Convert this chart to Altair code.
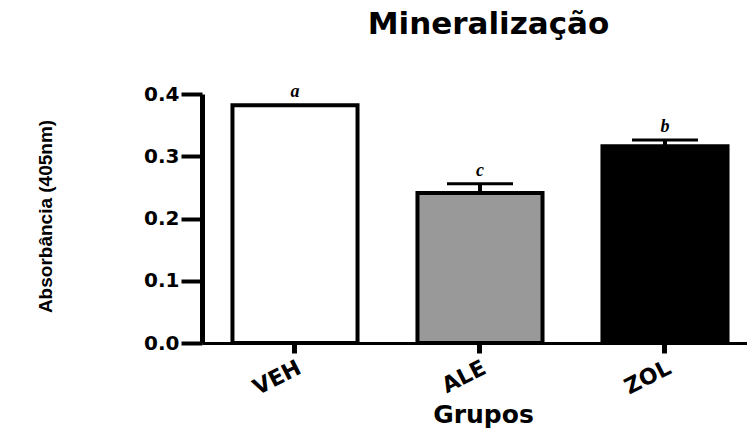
import altair as alt
import pandas as pd

# Mean absorbance per treatment group, upper SEM and significance letters
groups = ["VEH", "ALE", "ZOL"]
means = [0.382, 0.241, 0.316]
sems = [0.0, 0.015, 0.010]
letters = ["a", "c", "b"]
fills = ["#ffffff", "#999999", "#000000"]
y_ticks = [0.0, 0.1, 0.2, 0.3, 0.4]

df = pd.DataFrame({"grupo": groups, "media": means, "sem": sems, "letra": letters})
df["topo"] = df["media"] + df["sem"]

x_scale = alt.Scale(domain=groups, paddingInner=0.324, paddingOuter=0.135, align=0.61)
y_scale = alt.Scale(domain=[0, 0.4], nice=False, zero=True)

x_axis = alt.Axis(
    title="Grupos",
    labelAngle=-27,
    labelFont="DejaVu Sans",
    labelFontWeight="bold",
    labelFontSize=22,
    labelColor="black",
    labelPadding=4,
    tickSize=10,
    tickWidth=5,
    tickColor="black",
    domainColor="black",
    domainWidth=3,
    titleFont="DejaVu Sans",
    titleFontWeight="bold",
    titleFontSize=25,
    titleColor="black",
    titleX=281,
    titleY=79,
    titleBaseline="alphabetic",
    grid=False,
)

y_axis = alt.Axis(
    title="Absorbância (405nm)",
    values=y_ticks,
    format=".1f",
    labelFont="DejaVu Sans",
    labelFontWeight="bold",
    labelFontSize=20,
    labelColor="black",
    labelPadding=2,
    tickSize=21,
    tickWidth=4,
    tickColor="black",
    domainColor="black",
    domainWidth=5,
    titleFont="Liberation Sans",
    titleFontWeight="bold",
    titleFontSize=19,
    titleColor="black",
    titleAngle=270,
    titleX=-157,
    titleY=122,
    titleAlign="center",
    titleBaseline="middle",
    grid=False,
)

x_enc = alt.X("grupo:N", scale=x_scale, axis=x_axis, sort=groups)

bars = alt.Chart(df).mark_bar(stroke="black", strokeWidth=4).encode(
    x=x_enc,
    y=alt.Y("media:Q", scale=y_scale, axis=y_axis),
    fill=alt.Fill("grupo:N", scale=alt.Scale(domain=groups, range=fills), legend=None),
)

err = alt.Chart(df).transform_filter("datum.sem > 0")

stem = err.mark_rule(color="black", strokeWidth=4).encode(
    x=alt.X("grupo:N", scale=x_scale, sort=groups),
    y=alt.Y("media:Q", scale=y_scale),
    y2="topo:Q",
)

cap = err.mark_tick(
    orient="horizontal", size=66, thickness=3, color="black", opacity=1
).encode(
    x=alt.X("grupo:N", scale=x_scale, sort=groups),
    y=alt.Y("topo:Q", scale=y_scale),
)

labels = alt.Chart(df).mark_text(
    font="Liberation Serif",
    fontStyle="italic",
    fontWeight="bold",
    fontSize=18,
    baseline="alphabetic",
    dy=-8,
    color="black",
).encode(
    x=alt.X("grupo:N", scale=x_scale, sort=groups),
    y=alt.Y("topo:Q", scale=y_scale),
    text="letra:N",
)

chart = (
    alt.layer(bars, stem, cap, labels)
    .properties(
        width=545,
        height=249,
        title=alt.TitleParams(
            text="Mineralização",
            font="DejaVu Sans",
            fontSize=31,
            fontWeight="bold",
            color="black",
            anchor="middle",
            baseline="alphabetic",
            dx=14,
            offset=18,
        ),
        padding={"left": 202, "top": 94, "right": 0, "bottom": 86},
        autosize=alt.AutoSizeParams(type="none"),
        background="white",
    )
    .configure_view(stroke=None)
)

chart.save("out.html", embed_options={"renderer": "svg", "actions": False})
